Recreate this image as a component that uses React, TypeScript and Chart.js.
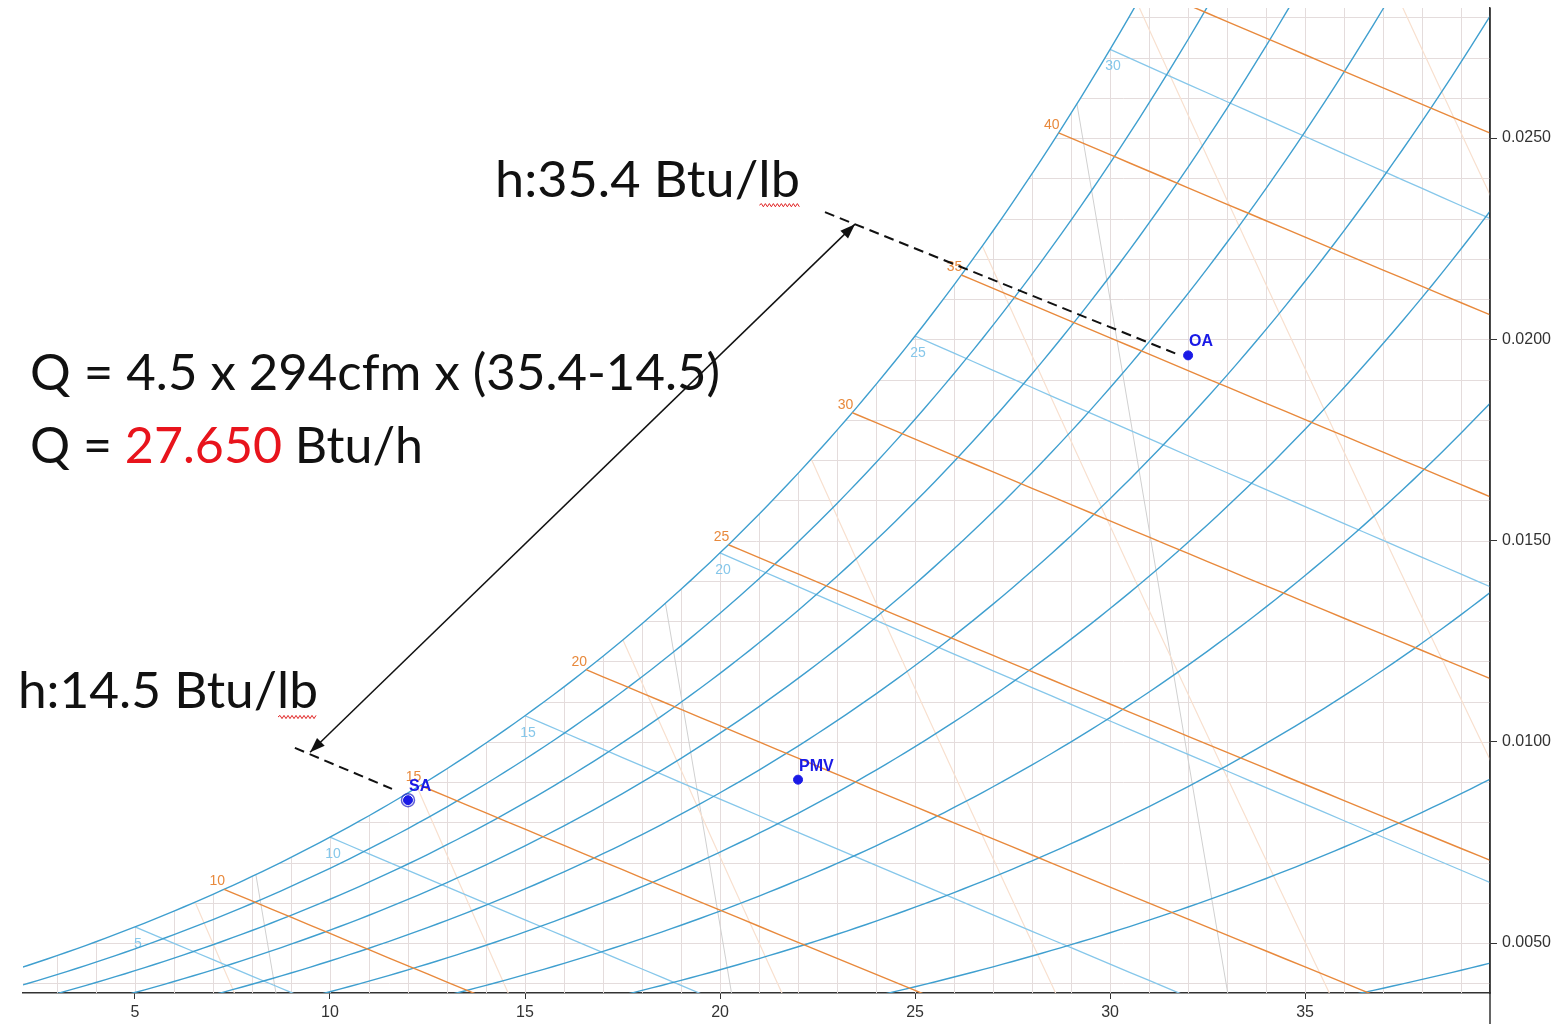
import React, { useEffect, useRef } from "react";
import { Chart, registerables } from "chart.js";

Chart.register(...registerables);

// ---------------- data ----------------
const tempRange = [2.13, 39.74]; // dry bulb, °C
const humidityRange = [0.00376, 0.02823]; // humidity ratio, kg/kg
const xTickLabels = [5, 10, 15, 20, 25, 30, 35];
const yTickLabels = [0.005, 0.01, 0.015, 0.02, 0.025];
const rhLevels = [10, 20, 30, 40, 50, 60, 70, 80, 90, 100];
const wetBulbTemps = [5, 10, 15, 20, 25, 30];
const enthalpyLevels = [10, 15, 20, 25, 30, 35, 40, 45];
const volumeLevels = [0.8, 0.82, 0.84, 0.86, 0.88, 0.9, 0.92];
const greyLineSatTemps = [8.1, 18.6, 29.15];
const greyLineSlope = -175;
const pointNames = ["SA", "PMV", "OA"];
const pointTemps = [12.0, 22.0, 32.0];
const pointHumidity = [0.00855, 0.00906, 0.0196];
const supplyLeaderT = [9.1, 11.59];
const supplyLeaderW = [0.00985, 0.00883];
const outdoorLeaderT = [22.69, 31.67];
const outdoorLeaderW = [0.02316, 0.01965];
const arrowT = [9.49, 23.46];
const arrowW = [0.00974, 0.02286];
const noteTopText = "h:35.4 Btu/lb";
const noteBottomText = "h:14.5 Btu/lb";
const formulaText = "Q = 4.5 x 294cfm x (35.4-14.5)";
const resultParts = ["Q = ", "27.650", " Btu/h"];

// ---------------- psychrometrics ----------------
const P_ATM = 101325;
function psat(t: number) {
  const T = t + 273.15;
  return Math.exp(
    -5.8002206e3 / T + 1.3914993 - 4.8640239e-2 * T + 4.1764768e-5 * T * T -
      1.4452093e-8 * T * T * T + 6.5459673 * Math.log(T)
  );
}
const wFromPw = (pw: number) => (0.621945 * pw) / (P_ATM - pw);
const wSat = (t: number) => wFromPw(psat(t));

function rhCurve(rh: number) {
  const pts: { x: number; y: number }[] = [];
  for (let t = 0; t <= 42; t += 0.25) {
    const w = wFromPw((rh / 100) * psat(t));
    pts.push({ x: t, y: w });
    if (w > 0.034) break;
  }
  return pts;
}

function enthalpyStart(hk: number) {
  let lo = -10, hi = 50;
  for (let i = 0; i < 60; i++) {
    const m = (lo + hi) / 2;
    const f = 1.006 * m + wSat(m) * (2501 + 1.86 * m) - hk;
    if (f > 0) hi = m; else lo = m;
  }
  return (lo + hi) / 2;
}
function enthalpyLine(H: number) {
  const hk = H * 2.326;
  const t0 = enthalpyStart(hk);
  const pts = [{ x: t0, y: wSat(t0) }];
  for (let t = Math.ceil(t0 * 2) / 2; t <= 44; t += 0.5) {
    const w = (hk - 1.006 * t) / (2501 + 1.86 * t);
    pts.push({ x: t, y: w });
    if (w < humidityRange[0] - 0.002) break;
  }
  return pts;
}
function wetBulbLine(twb: number) {
  const ws = wSat(twb);
  const pts: { x: number; y: number }[] = [];
  for (let t = twb; t <= 44; t += 0.5) {
    const w = ((2501 - 2.326 * twb) * ws - 1.006 * (t - twb)) / (2501 + 1.86 * t - 4.186 * twb);
    pts.push({ x: t, y: w });
    if (w < humidityRange[0] - 0.002) break;
  }
  return pts;
}
function volumeLine(v: number) {
  const tOf = (w: number) => (v * P_ATM) / 1000 / (0.287042 * (1 + 1.607858 * w)) - 273.15;
  const pts: { x: number; y: number }[] = [];
  const step = 0.0005;
  for (let w = 0; w < 0.05; w += step) {
    const t = tOf(w);
    if (w > wSat(t)) {
      let lo = w - step, hi = w;
      for (let i = 0; i < 40; i++) {
        const m = (lo + hi) / 2;
        if (m > wSat(tOf(m))) hi = m; else lo = m;
      }
      pts.push({ x: tOf(lo), y: lo });
      break;
    }
    pts.push({ x: t, y: w });
  }
  return pts;
}
function greyLine(t0: number) {
  const w0 = wSat(t0);
  const w1 = humidityRange[0] - 0.001;
  return [
    { x: t0, y: w0 },
    { x: t0 + greyLineSlope * (w1 - w0), y: w1 },
  ];
}

// ---------------- styles ----------------
const RH_COLOR = "#3f9fcf";
const WB_COLOR = "#86c7ea";
const H_COLOR = "#e8893c";
const V_COLOR = "#f8e0cf";
const GREY_COLOR = "#d0d0d0";
const GRID_COLOR = "#e4dcdc";
const POINT_COLOR = "#1a1ae6";
const NONE = "rgba(0,0,0,0)";

const near = (a: number, b: number) => Math.abs(a - b) < 1e-7;

function lineDs(data: any[], color: string, width: number, dash: number[] = []) {
  return {
    type: "scatter" as const,
    data,
    showLine: true,
    borderColor: color,
    backgroundColor: color,
    borderWidth: width,
    borderDash: dash,
    pointRadius: 0,
    pointHoverRadius: 0,
    tension: 0,
    fill: false,
  };
}

function drawScaledText(ctx: CanvasRenderingContext2D, parts: string[], colors: string[], x: number, y: number, width: number, font: string) {
  ctx.save();
  ctx.font = font;
  const full = parts.join("");
  const natural = ctx.measureText(full).width;
  const sx = width / natural;
  ctx.translate(x, y);
  ctx.scale(sx, 1);
  ctx.textAlign = "left";
  ctx.textBaseline = "alphabetic";
  let cx = 0;
  parts.forEach((p, i) => {
    ctx.fillStyle = colors[i];
    ctx.fillText(p, cx, 0);
    cx += ctx.measureText(p).width;
  });
  ctx.restore();
  return sx;
}

function squiggle(ctx: CanvasRenderingContext2D, x0: number, x1: number, y: number) {
  ctx.save();
  ctx.strokeStyle = "#e02424";
  ctx.lineWidth = 1;
  ctx.beginPath();
  let up = true;
  ctx.moveTo(x0, y);
  for (let x = x0 + 2; x <= x1; x += 2) {
    ctx.lineTo(x, up ? y - 1.6 : y + 1.6);
    up = !up;
  }
  ctx.stroke();
  ctx.restore();
}

function arrowHead(ctx: CanvasRenderingContext2D, tipX: number, tipY: number, fromX: number, fromY: number) {
  const ang = Math.atan2(tipY - fromY, tipX - fromX);
  const len = 15, half = 5.5;
  ctx.beginPath();
  ctx.moveTo(tipX, tipY);
  ctx.lineTo(tipX - len * Math.cos(ang) + half * Math.sin(ang), tipY - len * Math.sin(ang) - half * Math.cos(ang));
  ctx.lineTo(tipX - len * Math.cos(ang) - half * Math.sin(ang), tipY - len * Math.sin(ang) + half * Math.cos(ang));
  ctx.closePath();
  ctx.fill();
}

const overlayPlugin = {
  id: "psyOverlay",
  beforeDatasetsDraw(chart: any) {
    const { ctx, scales } = chart;
    const xs = scales.x, ys = scales.y;
    const area = chart.chartArea;

    // grid, only under the saturation curve
    ctx.save();
    ctx.beginPath();
    ctx.rect(area.left, area.top, area.right - area.left, area.bottom - area.top);
    ctx.clip();
    ctx.beginPath();
    const t0 = tempRange[0] - 0.5, t1 = tempRange[1] + 0.5;
    ctx.moveTo(xs.getPixelForValue(t0), ys.getPixelForValue(wSat(t0)));
    for (let t = t0; t <= t1; t += 0.1) ctx.lineTo(xs.getPixelForValue(t), ys.getPixelForValue(wSat(t)));
    ctx.lineTo(xs.getPixelForValue(t1), area.bottom + 2);
    ctx.lineTo(xs.getPixelForValue(t0), area.bottom + 2);
    ctx.closePath();
    ctx.clip();
    ctx.strokeStyle = GRID_COLOR;
    ctx.lineWidth = 1;
    ctx.beginPath();
    for (let t = Math.ceil(tempRange[0]); t <= tempRange[1]; t += 1) {
      const px = Math.round(xs.getPixelForValue(t)) + 0.5;
      ctx.moveTo(px, area.top);
      ctx.lineTo(px, area.bottom);
    }
    for (let k = Math.ceil(humidityRange[0] * 1000); k <= humidityRange[1] * 1000; k += 1) {
      const py = Math.round(ys.getPixelForValue(k / 1000)) + 0.5;
      ctx.moveTo(area.left, py);
      ctx.lineTo(area.right, py);
    }
    ctx.stroke();
    ctx.restore();

    ctx.save();
    ctx.font = "14px 'Liberation Sans', Arial, sans-serif";
    // enthalpy labels
    ctx.fillStyle = H_COLOR;
    ctx.textAlign = "right";
    ctx.textBaseline = "alphabetic";
    enthalpyLevels.forEach((H) => {
      const ts = enthalpyStart(H * 2.326);
      const w0 = wSat(ts);
      if (w0 > humidityRange[1] || ts < tempRange[0]) return;
      ctx.fillText(String(H), xs.getPixelForValue(ts) + 1, ys.getPixelForValue(w0) - 4);
    });
    // wet bulb labels
    ctx.fillStyle = WB_COLOR;
    ctx.textAlign = "center";
    ctx.textBaseline = "middle";
    wetBulbTemps.forEach((t) => {
      const w0 = wSat(t);
      if (w0 > humidityRange[1]) return;
      const px = xs.getPixelForValue(t) + 3;
      const py = ys.getPixelForValue(w0) + 17;
      if (py > area.bottom) return;
      ctx.fillText(String(t), px, py);
    });
    ctx.restore();
  },
  afterDatasetsDraw(chart: any) {
    const { ctx, scales } = chart;
    const xs = scales.x, ys = scales.y;
    ctx.save();
    ctx.font = "bold 16px 'Liberation Sans', Arial, sans-serif";
    ctx.fillStyle = POINT_COLOR;
    ctx.textAlign = "left";
    ctx.textBaseline = "alphabetic";
    pointNames.forEach((n, i) => {
      ctx.fillText(n, xs.getPixelForValue(pointTemps[i]) + 1, ys.getPixelForValue(pointHumidity[i]) - 9);
    });
    ctx.restore();
  },
  afterDraw(chart: any) {
    const { ctx, scales } = chart;
    const xs = scales.x, ys = scales.y;
    const area = chart.chartArea;
    ctx.save();
    // extend right axis line to the top and downward
    ctx.strokeStyle = "#333";
    ctx.lineWidth = 1.5;
    ctx.beginPath();
    ctx.moveTo(area.right, area.top);
    ctx.lineTo(area.right, chart.height);
    ctx.stroke();

    // double arrow
    const ax0 = xs.getPixelForValue(arrowT[0]), ay0 = ys.getPixelForValue(arrowW[0]);
    const ax1 = xs.getPixelForValue(arrowT[1]), ay1 = ys.getPixelForValue(arrowW[1]);
    ctx.strokeStyle = "#111";
    ctx.fillStyle = "#111";
    ctx.lineWidth = 1.5;
    ctx.beginPath();
    ctx.moveTo(ax0, ay0);
    ctx.lineTo(ax1, ay1);
    ctx.stroke();
    arrowHead(ctx, ax0, ay0, ax1, ay1);
    arrowHead(ctx, ax1, ay1, ax0, ay0);

    const bigFont = "50px Lato, 'Open Sans', sans-serif";
    // top enthalpy note
    const tx = xs.getPixelForValue(14.23), ty = ys.getPixelForValue(0.02353);
    const s1 = drawScaledText(ctx, [noteTopText], ["#111"], tx, ty, 305, bigFont);
    ctx.font = bigFont;
    const pre1 = ctx.measureText("h:35.4 Btu/").width * s1;
    squiggle(ctx, tx + pre1 + 1, tx + 305, ty + 8);

    // formula lines
    const fx = xs.getPixelForValue(2.31);
    drawScaledText(ctx, [formulaText], ["#111"], fx, ys.getPixelForValue(0.01874), 690, bigFont);
    drawScaledText(ctx, resultParts, ["#111", "#e8141c", "#111"], fx, ys.getPixelForValue(0.01693), 393, bigFont);

    // bottom enthalpy note
    const bx = xs.getPixelForValue(2.0), by = ys.getPixelForValue(0.01084);
    const s2 = drawScaledText(ctx, [noteBottomText], ["#111"], bx, by, 300, bigFont);
    ctx.font = bigFont;
    const pre2 = ctx.measureText("h:14.5 Btu/").width * s2;
    squiggle(ctx, bx + pre2 + 1, bx + 300, by + 9);
    ctx.restore();
  },
};

export default function App() {
  const ref = useRef<HTMLCanvasElement | null>(null);
  useEffect(() => {
    if (!ref.current) return;
    const datasets: any[] = [];
    // state points (drawn on top)
    datasets.push({
      type: "scatter",
      data: pointTemps.map((t, i) => ({ x: t, y: pointHumidity[i] })),
      pointRadius: 4.5,
      pointHoverRadius: 4.5,
      backgroundColor: POINT_COLOR,
      borderColor: POINT_COLOR,
      borderWidth: 1,
      showLine: false,
    });
    datasets.push({
      type: "scatter",
      data: [{ x: pointTemps[0], y: pointHumidity[0] }],
      pointRadius: 6.5,
      pointHoverRadius: 6.5,
      backgroundColor: NONE,
      borderColor: "rgba(40,40,200,0.75)",
      borderWidth: 1.5,
      showLine: false,
    });
    datasets.push(lineDs(supplyLeaderT.map((t, i) => ({ x: t, y: supplyLeaderW[i] })), "#111", 2, [10, 6]));
    datasets.push(lineDs(outdoorLeaderT.map((t, i) => ({ x: t, y: outdoorLeaderW[i] })), "#111", 2, [10, 6]));
    enthalpyLevels.forEach((H) => datasets.push(lineDs(enthalpyLine(H), H_COLOR, 1.4)));
    rhLevels.forEach((rh) => datasets.push(lineDs(rhCurve(rh), RH_COLOR, 1.4)));
    wetBulbTemps.forEach((t) => datasets.push(lineDs(wetBulbLine(t), WB_COLOR, 1.3)));
    volumeLevels.forEach((v) => datasets.push(lineDs(volumeLine(v), V_COLOR, 1.2)));
    greyLineSatTemps.forEach((t) => datasets.push(lineDs(greyLine(t), GREY_COLOR, 1)));

    const tickFont = { family: "'Liberation Sans', Arial, sans-serif", size: 16 };
    const chart = new Chart(ref.current, {
      type: "scatter",
      data: { datasets },
      plugins: [overlayPlugin],
      options: {
        animation: false,
        responsive: false,
        maintainAspectRatio: false,
        devicePixelRatio: 1,
        events: [],
        layout: { padding: { left: 23, top: 8, right: 0, bottom: 0 } },
        plugins: { legend: { display: false }, tooltip: { enabled: false } },
        scales: {
          x: {
            type: "linear",
            position: "bottom",
            min: tempRange[0],
            max: tempRange[1],
            afterFit: (s: any) => {
              s.height = 31;
              s.paddingLeft = 0;
              s.paddingRight = 0;
            },
            grid: {
              color: NONE,
              lineWidth: 1,
              drawTicks: true,
              tickLength: 6,
              tickColor: (c: any) =>
                c.tick && xTickLabels.some((l) => near(l, c.tick.value)) ? "#333" : NONE,
            },
            border: { display: true, color: "#333", width: 1.5 },
            ticks: {
              stepSize: 1,
              autoSkip: false,
              maxRotation: 0,
              padding: 4,
              color: "#333",
              font: tickFont,
              callback: (v: any) => {
                const l = xTickLabels.find((k) => near(k, Number(v)));
                return l !== undefined ? String(l) : "";
              },
            },
          },
          y: {
            type: "linear",
            position: "right",
            min: humidityRange[0],
            max: humidityRange[1],
            afterFit: (s: any) => {
              s.width = 70;
              s.paddingTop = 0;
              s.paddingBottom = 0;
            },
            grid: {
              color: NONE,
              lineWidth: 1,
              drawTicks: true,
              tickLength: 7,
              tickColor: (c: any) =>
                c.tick && yTickLabels.some((l) => near(l, c.tick.value)) ? "#333" : NONE,
            },
            border: { display: true, color: "#333", width: 1.5 },
            ticks: {
              stepSize: 0.001,
              autoSkip: false,
              padding: 5,
              color: "#333",
              font: tickFont,
              callback: (v: any) => {
                const l = yTickLabels.find((k) => near(k, Number(v)));
                return l !== undefined ? l.toFixed(4) : "";
              },
            },
          },
        },
      } as any,
    });
    return () => chart.destroy();
  }, []);

  return (
    <div style={{ position: "fixed", left: 0, top: 0, width: 1560, height: 1024, background: "#fff" }}>
      <canvas ref={ref} width={1560} height={1024} style={{ display: "block" }} />
    </div>
  );
}
